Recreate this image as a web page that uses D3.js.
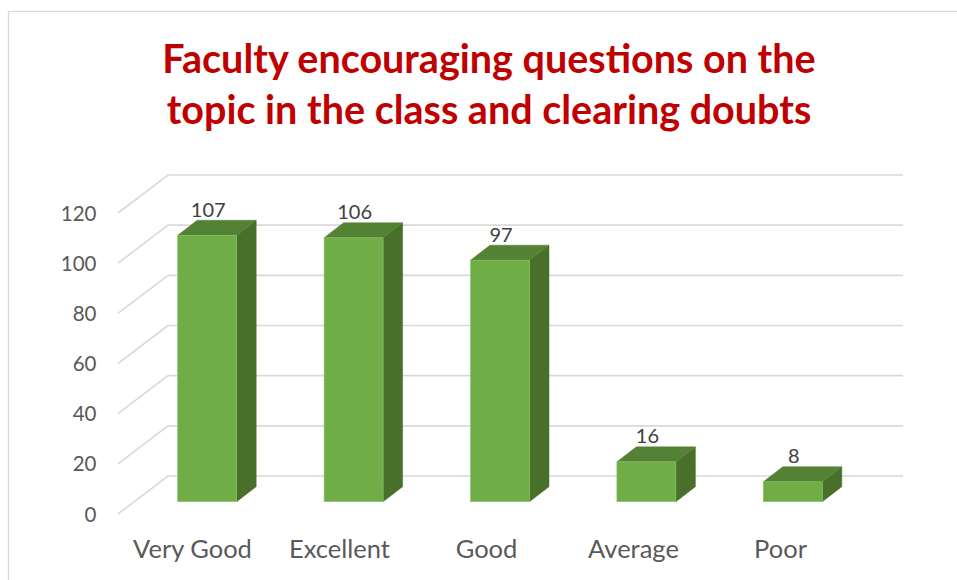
<!DOCTYPE html>
<html>
<head>
<meta charset="utf-8">
<script src="https://cdn.jsdelivr.net/npm/d3@7"></script>
<style>
  html, body { margin: 0; padding: 0; background: #fff; }
  svg { display: block; }
</style>
</head>
<body>
<svg id="chart" width="957" height="580"></svg>
<script>
const categories = ["Very Good", "Excellent", "Good", "Average", "Poor"];
const values = [107, 106, 97, 16, 8];
const tickValues = [0, 20, 40, 60, 80, 100, 120];
const titleLines = ["Faculty encouraging questions on the", "topic in the class and clearing doubts"];

const W = 957, H = 580;
const svg = d3.select("#chart");

// chart border
svg.append("rect").attr("x", 8.5).attr("y", 11.5).attr("width", 960).attr("height", 600)
  .attr("fill", "#fff").attr("stroke", "#d9d9d9").attr("stroke-width", 1.3);

// 3D geometry
const floorDepth = { dx: 50, dy: 38 };   // back wall -> front edge offset
const barDepth = { dx: 19.5, dy: -15 };  // bar front face -> bar back face
const backLeft = 168, backRight = 903;

const yBack = d3.scaleLinear().domain([0, 120]).range([476, 175]);
const yBar = d3.scaleLinear().domain([0, 120]).range([501.7, 501.7 - 120 * 2.49]);

// front-plane category bands (for labels)
const xFrontPlane = d3.scaleBand().domain(categories)
  .range([backLeft - floorDepth.dx, backRight - floorDepth.dx]).padding(0);
// bar front face bands
const xBar = d3.scaleBand().domain(categories)
  .range([177.7, 822.3]).paddingInner(0.597).paddingOuter(0);

// gridlines (back wall + left wall diagonals)
const grid = svg.append("g");
tickValues.forEach(t => {
  const y = yBack(t);
  grid.append("path")
    .attr("d", `M${backLeft - floorDepth.dx},${y + floorDepth.dy}L${backLeft},${y}L${backRight},${y}`)
    .attr("fill", "none").attr("stroke", "#d9d9d9").attr("stroke-width", 1.6);
});

// tick labels
svg.append("g").selectAll("text").data(tickValues).join("text")
  .attr("x", 96.5).attr("y", d => yBack(d) + floorDepth.dy + 7.5)
  .attr("text-anchor", "end")
  .attr("font-family", "Lato, 'Open Sans', sans-serif")
  .attr("font-size", 20.5).attr("fill", "#595959")
  .text(d => d);

// bars
const bars = svg.append("g").selectAll("g").data(categories).join("g");
bars.each(function (c, i) {
  const g = d3.select(this);
  const x0 = xBar(c), x1 = x0 + xBar.bandwidth();
  const yT = yBar(values[i]), y0 = yBar(0);
  const dx = barDepth.dx, dy = barDepth.dy;
  // side face
  g.append("path")
    .attr("d", `M${x1},${yT}L${x1 + dx},${yT + dy}L${x1 + dx},${y0 + dy}L${x1},${y0}Z`)
    .attr("fill", "#48702b").attr("stroke", "#48702b").attr("stroke-width", 0.5);
  // top face
  g.append("path")
    .attr("d", `M${x0},${yT}L${x0 + dx},${yT + dy}L${x1 + dx},${yT + dy}L${x1},${yT}Z`)
    .attr("fill", "#548235").attr("stroke", "#548235").attr("stroke-width", 0.5);
  // front face
  g.append("rect")
    .attr("x", x0).attr("y", yT).attr("width", x1 - x0).attr("height", y0 - yT)
    .attr("fill", "#70ad47").attr("stroke", "#8cc06a").attr("stroke-width", 0.6);
  // value label
  g.append("text")
    .attr("x", (x0 + x1) / 2 + 1).attr("y", yT + dy - 3.5)
    .attr("text-anchor", "middle")
    .attr("font-family", "Lato, 'Open Sans', sans-serif")
    .attr("font-size", 20).attr("fill", "#404040")
    .text(values[i]);
});

// category labels
svg.append("g").selectAll("text").data(categories).join("text")
  .attr("x", d => xFrontPlane(d) + xFrontPlane.bandwidth() / 2 + 1)
  .attr("y", 557.5)
  .attr("text-anchor", "middle")
  .attr("font-family", "Lato, 'Open Sans', sans-serif")
  .attr("font-size", 25.5).attr("fill", "#595959")
  .text(d => d);

// title
svg.append("g").selectAll("text").data(titleLines).join("text")
  .attr("x", 489).attr("y", (d, i) => 73 + i * 51)
  .attr("text-anchor", "middle")
  .attr("font-family", "Lato, 'Open Sans', sans-serif")
  .attr("font-weight", "bold")
  .attr("font-size", 39.5).attr("fill", "#c00000")
  .text(d => d);
</script>
</body>
</html>
